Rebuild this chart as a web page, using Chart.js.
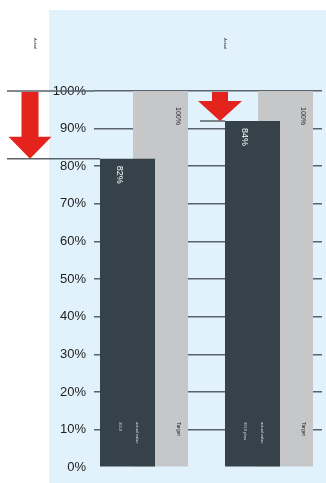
<!DOCTYPE html>
<html>
<head>
<meta charset="utf-8">
<script src="https://cdn.jsdelivr.net/npm/chart.js@4"></script>
<style>
  html, body { margin: 0; padding: 0; background: #fff; }
  #wrap { width: 326px; height: 483px; position: relative; }
</style>
</head>
<body>
<div id="wrap"><canvas id="myChart"></canvas></div>
<script>
const categories = ["Group A", "Group B"];
const actual = [82, 92];
const target = [100, 100];
const actualLabels = ["82%", "84%"];
const targetLabels = ["100%", "100%"];
const yTicks = [0, 10, 20, 30, 40, 50, 60, 70, 80, 90, 100];
const headNotes = ["Actual", "Actual"];
const barNotes = [["2019", "actual value"], ["2019 plan", "actual value"]];
const targetNotes = ["Target", "Target"];

const ctx = document.getElementById("myChart");

const red = "#e5231d";
const lineCol = "#5a626a";

function arrow(c, cx, top, tip, shaftW, headW, headH) {
  c.fillStyle = red;
  c.beginPath();
  c.moveTo(cx - shaftW / 2, top);
  c.lineTo(cx + shaftW / 2, top);
  c.lineTo(cx + shaftW / 2, tip - headH);
  c.lineTo(cx + headW / 2, tip - headH);
  c.lineTo(cx, tip);
  c.lineTo(cx - headW / 2, tip - headH);
  c.lineTo(cx - shaftW / 2, tip - headH);
  c.closePath();
  c.fill();
}

function vtext(c, text, x, y, size, color) {
  c.save();
  c.translate(x, y);
  c.rotate(Math.PI / 2);
  c.font = size + "px 'Liberation Sans', Arial, sans-serif";
  c.fillStyle = color;
  c.textAlign = "left";
  c.textBaseline = "middle";
  c.fillText(text, 0, 0);
  c.restore();
}

const panel = {
  id: "panel",
  beforeDraw(chart) {
    const c = chart.ctx;
    c.save();
    c.fillStyle = "#e2f2fc";
    c.fillRect(49, 10, chart.width - 49, chart.height - 10);
    c.restore();
  },
  beforeDatasetsDraw(chart) {
    const c = chart.ctx;
    const y = chart.scales.y;
    const dark = chart.getDatasetMeta(0).data;
    const y100 = y.getPixelForValue(target[0]);
    c.save();
    c.strokeStyle = lineCol;
    c.lineWidth = 1.5;
    // marker lines for the arrows
    c.beginPath();
    c.moveTo(7, y100);
    c.lineTo(chart.chartArea.left, y100);
    const ya = y.getPixelForValue(actual[0]);
    c.moveTo(7, ya);
    c.lineTo(dark[0].x - dark[0].width / 2, ya);
    const yb = y.getPixelForValue(actual[1]);
    c.moveTo(200, yb);
    c.lineTo(dark[1].x - dark[1].width / 2, yb);
    c.stroke();
    c.restore();
  },
  afterDatasetsDraw(chart) {
    const c = chart.ctx;
    const y = chart.scales.y;
    const dark = chart.getDatasetMeta(0).data;
    const grey = chart.getDatasetMeta(1).data;
    c.save();
    arrow(c, 30, y.getPixelForValue(target[0]) + 1, y.getPixelForValue(actual[0]), 17, 43, 22);
    arrow(c, 220, y.getPixelForValue(target[1]) + 1, y.getPixelForValue(actual[1]), 16, 44, 20);

    dark.forEach((b, i) => {
      const left = b.x - b.width / 2;
      vtext(c, actualLabels[i], left + 19, b.y + 7, 9, "#ffffff");
      vtext(c, barNotes[i][0], left + 20, y.getPixelForValue(12), 4, "#d8dde0");
      vtext(c, barNotes[i][1], left + 37, y.getPixelForValue(12), 4, "#d8dde0");
    });
    grey.forEach((b, i) => {
      const right = b.x + b.width / 2;
      vtext(c, targetLabels[i], right - 10, b.y + 16, 7, "#333333");
      vtext(c, targetNotes[i], right - 10, y.getPixelForValue(12), 5, "#222222");
    });
    vtext(c, headNotes[0], 35, 38, 4, "#333333");
    vtext(c, headNotes[1], 225, 38, 4, "#333333");
    c.restore();
  },
};

new Chart(ctx, {
  type: "bar",
  data: {
    labels: categories,
    datasets: [
      {
        label: "Actual",
        data: actual.map((v, i) => ({ x: i, y: v })),
        backgroundColor: "#36424a",
        categoryPercentage: 0.528,
        barPercentage: 1.667,
      },
      {
        label: "Target",
        data: target.map((v, i) => ({ x: i, y: v })),
        backgroundColor: "#c6c7c9",
        categoryPercentage: 0.528,
        barPercentage: 1.667,
      },
    ],
  },
  options: {
    responsive: true,
    maintainAspectRatio: false,
    animation: false,
    layout: { padding: { left: 0, right: 4, top: 91, bottom: 7 } },
    plugins: {
      legend: { display: false },
      tooltip: { enabled: false },
    },
    scales: {
      x: {
        type: "linear",
        display: false,
        offset: false,
        min: -0.4,
        max: 1.424,
        afterBuildTicks: (s) => {
          s.ticks = categories.map((c, i) => ({ value: i }));
        },
      },
      y: {
        min: 0,
        max: 100,
        afterBuildTicks: (s) => {
          s.ticks = yTicks.map((v) => ({ value: v }));
        },
        afterFit: (s) => {
          s.width = 94;
        },
        border: { display: false },
        grid: {
          color: (c) => (c.tick && c.tick.value === 0 ? "rgba(0,0,0,0)" : lineCol),
          lineWidth: 1.5,
          drawTicks: false,
        },
        ticks: {
          padding: 8,
          color: "#222",
          font: { size: 13, family: "'Liberation Sans', Arial, sans-serif" },
          callback: (v) => v + "%",
        },
      },
    },
  },
  plugins: [panel],
});
</script>
</body>
</html>
